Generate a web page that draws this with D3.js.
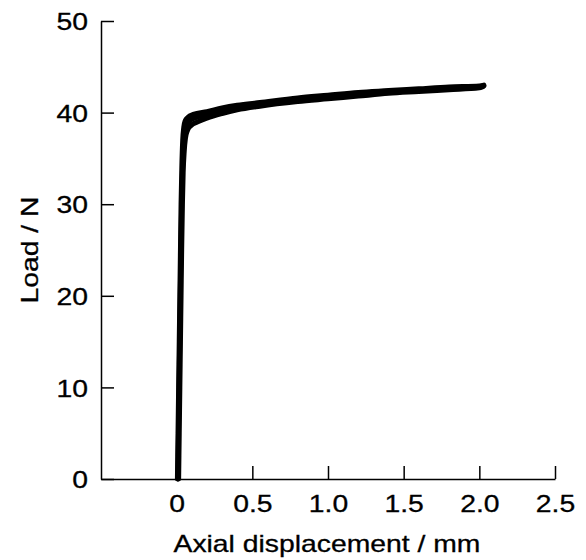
<!DOCTYPE html>
<html>
<head>
<meta charset="utf-8">
<script src="https://cdn.jsdelivr.net/npm/d3@7"></script>
<style>
  body { margin: 0; background: #fff; }
  svg { display: block; }
  text { font-family: "Liberation Sans", Arial, Helvetica, sans-serif; fill: #000; stroke: #000; stroke-width: 0.3px; }
  .axis path, .axis line { stroke: #000; stroke-width: 1.5; }
  .curve { fill: none; stroke: #000; stroke-width: 5; stroke-linejoin: round; stroke-linecap: round; }
</style>
</head>
<body>
<script>
var xTicks, yTicks, specimenA, specimenB, specimenC, specimens;
var svg, x, y, line, xAxisG, yAxisG, STRETCH;

// tick values
xTicks = [0, 0.5, 1.0, 1.5, 2.0, 2.5];
yTicks = [0, 10, 20, 30, 40, 50];

// [displacement mm, load N]
specimenA = [[0.008, 0], [0.012, 5], [0.016, 10], [0.020, 15], [0.024, 20], [0.028, 25],
  [0.033, 30], [0.039, 34], [0.045, 36.5], [0.052, 37.8], [0.062, 38.5], [0.08, 39.0],
  [0.12, 39.4], [0.2, 39.8], [0.3, 40.2], [0.4, 40.5], [0.55, 40.9], [0.8, 41.4],
  [1.0, 41.7], [1.2, 42.0], [1.4, 42.2], [1.6, 42.4], [1.8, 42.6], [2.0, 42.8], [2.03, 42.9]];

specimenB = [[0.013, 0], [0.017, 5], [0.021, 10], [0.025, 15], [0.029, 20], [0.033, 25],
  [0.038, 30], [0.043, 33.5], [0.050, 35.8], [0.058, 37.2], [0.070, 38.0], [0.095, 38.6],
  [0.14, 39.0], [0.2, 39.4], [0.3, 39.9], [0.4, 40.3], [0.55, 40.7], [0.8, 41.2],
  [1.0, 41.5], [1.2, 41.8], [1.4, 42.1], [1.6, 42.3], [1.8, 42.5], [2.0, 42.7], [2.02, 42.8]];

specimenC = [[0.005, 0], [0.009, 5], [0.013, 10], [0.017, 15], [0.021, 20], [0.025, 25],
  [0.029, 30], [0.034, 34], [0.040, 37], [0.047, 38.4], [0.056, 39.1], [0.075, 39.5],
  [0.11, 39.8], [0.2, 40.1], [0.3, 40.5], [0.4, 40.8], [0.55, 41.1], [0.8, 41.6],
  [1.0, 41.9], [1.2, 42.2], [1.4, 42.4], [1.6, 42.6], [1.8, 42.8], [2.0, 42.9], [2.03, 43.0]];

specimens = [specimenA, specimenB, specimenC];

// text in the original is a bit wider than Arial
STRETCH = 1.18;

svg = d3.select('body').append('svg')
  .attr('width', 586)
  .attr('height', 560);

x = d3.scaleLinear().domain([-0.5, 2.5]).range([101, 555]);
y = d3.scaleLinear().domain([0, 50]).range([479, 21]);

line = d3.line()
  .x(function(d) { return x(d[0]); })
  .y(function(d) { return y(d[1]); })
  .curve(d3.curveMonotoneX);

xAxisG = svg.append('g')
  .attr('class', 'axis')
  .attr('transform', 'translate(0,' + y(0) + ')')
  .call(d3.axisBottom(x)
    .tickValues(xTicks)
    .tickSizeInner(-13)
    .tickSizeOuter(0)
    .tickFormat(function(d) { return d === 0 ? '0' : d3.format('.1f')(d); }));

yAxisG = svg.append('g')
  .attr('class', 'axis')
  .attr('transform', 'translate(' + x(-0.5) + ',0)')
  .call(d3.axisLeft(y)
    .tickValues(yTicks)
    .tickSizeInner(-13)
    .tickSizeOuter(0));

xAxisG.selectAll('text')
  .attr('y', 33)
  .attr('dy', null)
  .style('font-size', '24px');

yAxisG.selectAll('text')
  .attr('x', -13)
  .attr('dy', '0.36em')
  .style('font-size', '24px');

svg.selectAll('.curve')
    .data(specimens)
  .enter()
    .append('path')
    .attr('class', 'curve')
    .attr('d', line);

svg.append('text')
  .attr('x', 327)
  .attr('y', 552)
  .attr('text-anchor', 'middle')
  .style('font-size', '24px')
  .text('Axial displacement / mm');

svg.append('text')
  .attr('transform', 'translate(38,250) rotate(-90)')
  .attr('text-anchor', 'middle')
  .style('font-size', '24px')
  .text('Load / N');

// widen every label to match the scan
svg.selectAll('text').each(function() {
  var w = this.getComputedTextLength();
  d3.select(this)
    .attr('textLength', w * STRETCH)
    .attr('lengthAdjust', 'spacingAndGlyphs');
});
</script>
</body>
</html>
